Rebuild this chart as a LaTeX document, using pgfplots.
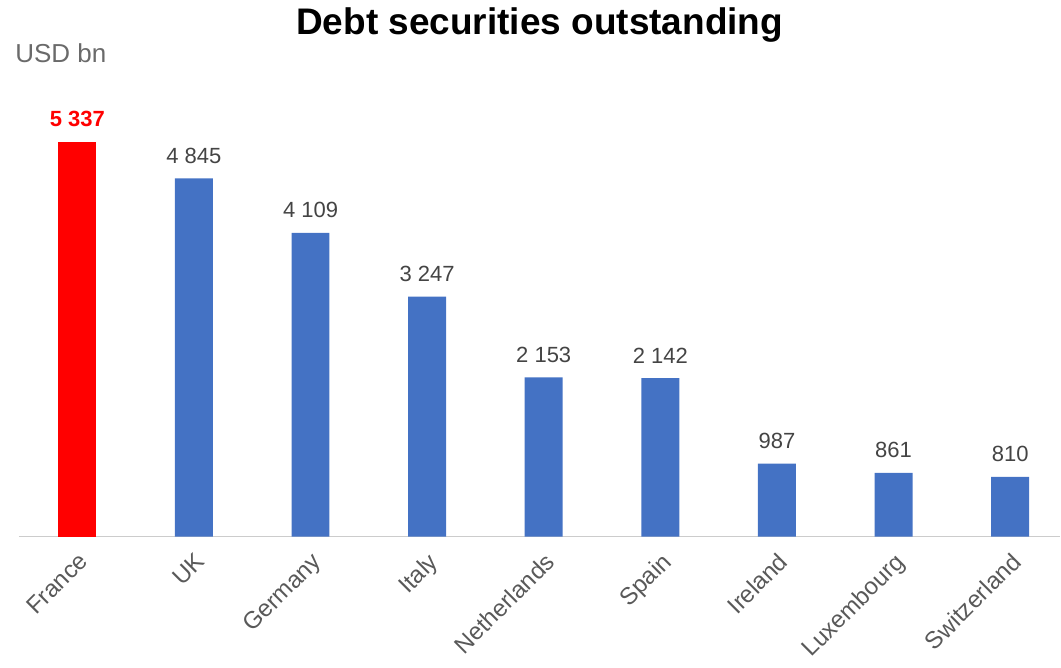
\documentclass[border=0pt]{standalone}
\usepackage{pgfplots}
\pgfplotsset{compat=1.18}
\usepackage{fontspec}
\setmainfont{Liberation Sans}
\definecolor{barblue}{HTML}{4472C4}
\definecolor{txtgray}{HTML}{595959}
\definecolor{lblgray}{HTML}{444444}
\begin{document}
\begin{tikzpicture}
\begin{axis}[
  scale only axis, width=521pt, height=218.5pt,
  xmin=-0.5, xmax=8.43, ymin=0, ymax=5905,
  axis x line*=bottom, axis y line=none,
  x axis line style={draw=black!20, line width=0.7pt, -},
  xtick={0,...,8},
  xticklabels={France,UK,Germany,Italy,Netherlands,Spain,Ireland,Luxembourg,Switzerland},
  major tick length=0pt,
  xticklabel style={rotate=45, anchor=north east, font=\fontsize{12}{14}\selectfont, text=txtgray, inner sep=2pt, yshift=-3pt, xshift=-3pt},
  ytick=\empty,
  ybar, bar width=19pt, bar shift=0pt,
  nodes near coords, point meta=explicit symbolic,
  nodes near coords style={anchor=south, yshift=4pt, font=\fontsize{11}{13}\selectfont, text=lblgray},
  clip=false,
]
\addplot[fill=red, draw=none, nodes near coords style={text=red, font=\bfseries\fontsize{11}{13}\selectfont}] coordinates {(0,5337) [5 337]};
\addplot[fill=barblue, draw=none] coordinates {
(1,4845) [4 845]
(2,4109) [4 109]
(3,3247) [3 247]
(4,2153) [2 153]
(5,2142) [2 142]
(6,987) [987]
(7,861) [861]
(8,810) [810]
};
\end{axis}
\node[anchor=base, font=\bfseries\fontsize{18.5}{22}\selectfont] at (260.5pt,251pt) {Debt securities outstanding};
\node[anchor=base west, inner sep=0pt, font=\fontsize{13}{15}\selectfont, text=txtgray!90] at (-2pt,237pt) {USD bn};
\path[use as bounding box] (-9.5pt,-61.5pt) rectangle (521pt,268.5pt);
\end{tikzpicture}
\end{document}
